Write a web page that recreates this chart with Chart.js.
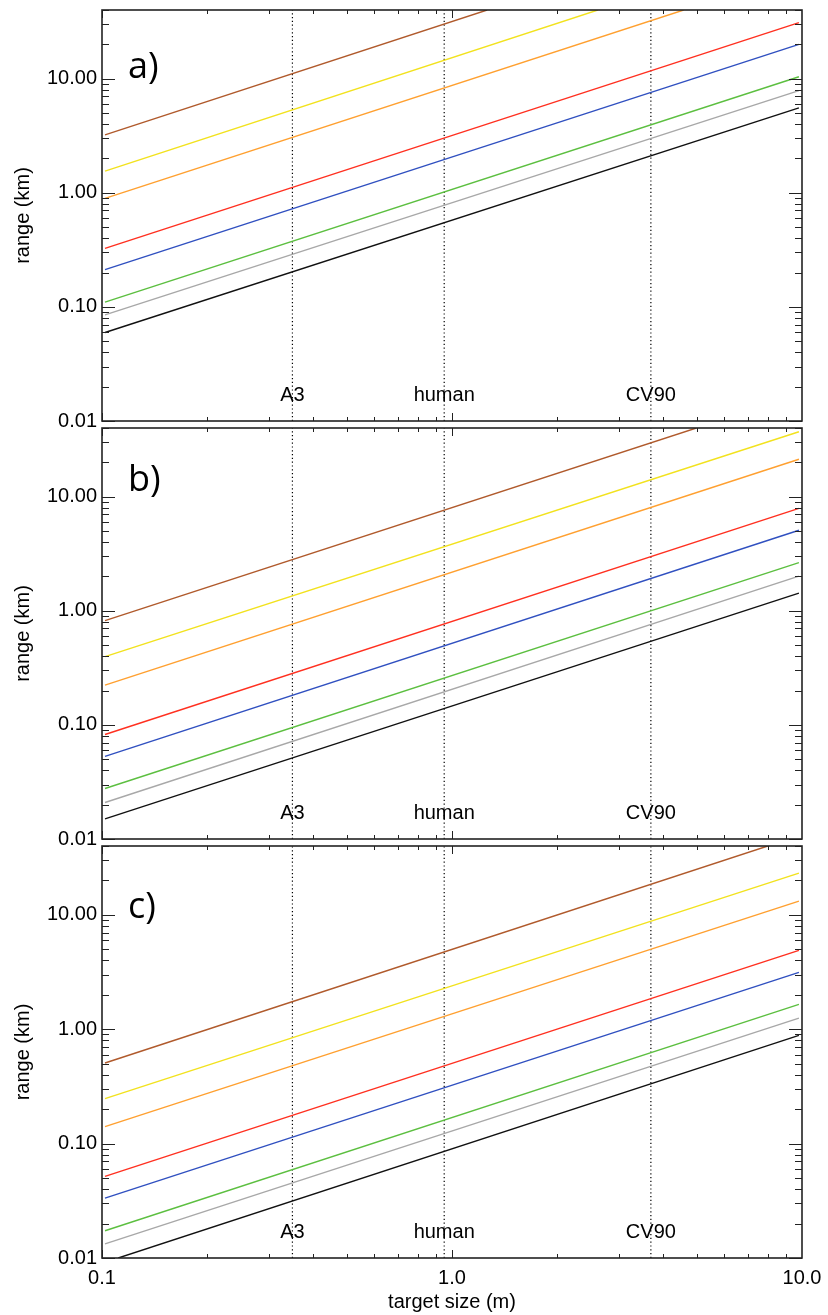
<!DOCTYPE html>
<html>
<head>
<meta charset="utf-8">
<title>range vs target size</title>
<script src="https://cdn.jsdelivr.net/npm/chart.js@4.4.1/dist/chart.umd.min.js"></script>
<style>
    body { margin: 0; background: #fff; width: 828px; height: 1315px; position: relative; overflow: hidden; }
    canvas { position: absolute; left: 0; }
</style>
</head>
<body>
<canvas id="chartA" width="828" height="427" style="top:6px"></canvas>
<canvas id="chartB" width="828" height="427" style="top:424px"></canvas>
<canvas id="chartC" width="828" height="473" style="top:842px"></canvas>
<script>
// Axis ticks and markers
const yTicks = [0.01, 0.1, 1, 10];
const xTicks = [0.1, 1, 10];
const markerSizes = [0.35, 0.95, 3.7];
const markerLabels = ['A3', 'human', 'CV90'];

// One line per colour, same order in every panel
const seriesColors = ['#b05a2c', '#f2e21e', '#ffa030', '#ff3020', '#3050c0', '#5cbf40', '#a8a8a8', '#111111'];

// Lines start at x = 0.102 and end at 9.8 unless they leave the top of the plot
const xStart = 0.102;

// panel a)
const aStartY = [3.22, 1.55, 0.894, 0.326, 0.212, 0.110, 0.085, 0.0597];
const aEndX = [1.26, 2.61, 4.59, 9.8, 9.8, 9.8, 9.8, 9.8];
const aEndY = [40, 40, 40, 31.0, 20.0, 10.4, 7.87, 5.55];

// panel b)
const bStartY = [0.82, 0.397, 0.223, 0.0824, 0.0529, 0.0277, 0.0209, 0.0150];
const bEndX = [4.99, 9.8, 9.8, 9.8, 9.8, 9.8, 9.8, 9.8];
const bEndY = [40, 37.1, 21.3, 7.91, 5.08, 2.64, 2.01, 1.43];

// panel c)  (black line enters from the bottom edge)
const cStartX = [0.102, 0.102, 0.102, 0.102, 0.102, 0.102, 0.102, 0.1113];
const cStartY = [0.507, 0.247, 0.1406, 0.0517, 0.0334, 0.0173, 0.0133, 0.01];
const cEndX = [7.98, 9.8, 9.8, 9.8, 9.8, 9.8, 9.8, 9.8];
const cEndY = [40, 23.2, 13.2, 4.89, 3.14, 1.65, 1.25, 0.883];

const FONT = "'Liberation Sans', Arial, Helvetica, sans-serif";

// frame, inward ticks, marker names and panel letter
const framePlugin = {
    id: 'frameTicks',
    afterDraw(chart) {
        const { ctx, chartArea: area, scales: { x, y } } = chart;
        const opts = chart.options.plugins.frameTicks;
        ctx.save();
        ctx.strokeStyle = '#222';
        ctx.lineWidth = 1;
        ctx.beginPath();
        for (let e = -2; e <= 1; e++) {
            for (let m = 1; m <= 9; m++) {
                const v = m * Math.pow(10, e);
                if (v > y.max) break;
                const py = Math.round(y.getPixelForValue(v)) + 0.5;
                const len = m === 1 ? 13 : 7;
                ctx.moveTo(area.left, py); ctx.lineTo(area.left + len, py);
                ctx.moveTo(area.right, py); ctx.lineTo(area.right - len, py);
            }
        }
        for (let e = -1; e <= 0; e++) {
            for (let m = 1; m <= 9; m++) {
                const v = m * Math.pow(10, e);
                const px = Math.round(x.getPixelForValue(v)) + 0.5;
                const len = m === 1 ? 8 : 4;
                ctx.moveTo(px, area.top); ctx.lineTo(px, area.top + len);
                ctx.moveTo(px, area.bottom); ctx.lineTo(px, area.bottom - len);
            }
        }
        ctx.stroke();

        ctx.lineWidth = 1.6;
        ctx.strokeRect(area.left, area.top, area.right - area.left, area.bottom - area.top);

        ctx.fillStyle = '#000';
        ctx.font = '20px ' + FONT;
        ctx.textAlign = 'center';
        ctx.textBaseline = 'alphabetic';
        markerSizes.forEach((s, i) => {
            ctx.fillText(markerLabels[i], x.getPixelForValue(s), area.bottom - 20);
        });

        ctx.font = "36px 'Open Sans', sans-serif";
        ctx.textAlign = 'left';
        ctx.fillText(opts.letter, 128, area.top + opts.letterOffset);
        ctx.restore();
    }
};

function buildChart(id, startX, startY, endX, endY, letter, letterOffset, isBottom) {
    const datasets = seriesColors.map((color, i) => ({
        data: [{ x: startX[i], y: startY[i] }, { x: endX[i], y: endY[i] }],
        borderColor: color,
        borderWidth: 1.4,
        pointRadius: 0,
        fill: false
    }));
    markerSizes.forEach((s) => {
        datasets.push({
            data: [{ x: s, y: 0.01 }, { x: s, y: 40 }],
            borderColor: '#000',
            borderWidth: 1.2,
            borderDash: [1.2, 2.6],
            pointRadius: 0,
            fill: false
        });
    });

    return new Chart(document.getElementById(id), {
        type: 'line',
        data: { datasets },
        options: {
            responsive: false,
            animation: false,
            layout: {
                padding: { left: 0, right: 26, top: 4, bottom: isBottom ? 0 : 12 }
            },
            plugins: {
                legend: { display: false },
                tooltip: { enabled: false },
                frameTicks: { letter, letterOffset }
            },
            scales: {
                x: {
                    type: 'logarithmic',
                    min: 0.1,
                    max: 10,
                    display: isBottom,
                    grid: { display: false, drawTicks: false },
                    border: { display: false },
                    afterBuildTicks: (scale) => {
                        scale.ticks = xTicks.map((v) => ({ value: v }));
                    },
                    afterFit: (scale) => {
                        if (isBottom) {
                            scale.height = 57;
                        }
                        scale.paddingLeft = 0;
                        scale.paddingRight = 0;
                    },
                    ticks: {
                        color: '#000',
                        padding: 8,
                        maxRotation: 0,
                        autoSkip: false,
                        font: { family: FONT, size: 20 },
                        callback: (value) => Number(value).toFixed(1)
                    },
                    title: {
                        display: true,
                        text: 'target size (m)',
                        color: '#000',
                        padding: { top: 0, bottom: 1 },
                        font: { family: FONT, size: 20 }
                    }
                },
                y: {
                    type: 'logarithmic',
                    min: 0.01,
                    max: 40,
                    grid: { display: false, drawTicks: false },
                    border: { display: false },
                    afterBuildTicks: (scale) => {
                        scale.ticks = yTicks.map((v) => ({ value: v }));
                    },
                    afterFit: (scale) => {
                        scale.width = 102;
                        scale.paddingTop = 0;
                        scale.paddingBottom = 0;
                    },
                    ticks: {
                        color: '#000',
                        padding: 5,
                        autoSkip: false,
                        font: { family: FONT, size: 20 },
                        callback: (value) => Number(value).toFixed(2)
                    },
                    title: {
                        display: true,
                        text: 'range (km)',
                        color: '#000',
                        padding: { top: 11, bottom: 0 },
                        font: { family: FONT, size: 20 }
                    }
                }
            }
        },
        plugins: [framePlugin]
    });
}

buildChart('chartA', aStartY.map(() => xStart), aStartY, aEndX, aEndY, 'a)', 68, false);
buildChart('chartB', bStartY.map(() => xStart), bStartY, bEndX, bEndY, 'b)', 63, false);
buildChart('chartC', cStartX, cStartY, cEndX, cEndY, 'c)', 72, true);
</script>
</body>
</html>
